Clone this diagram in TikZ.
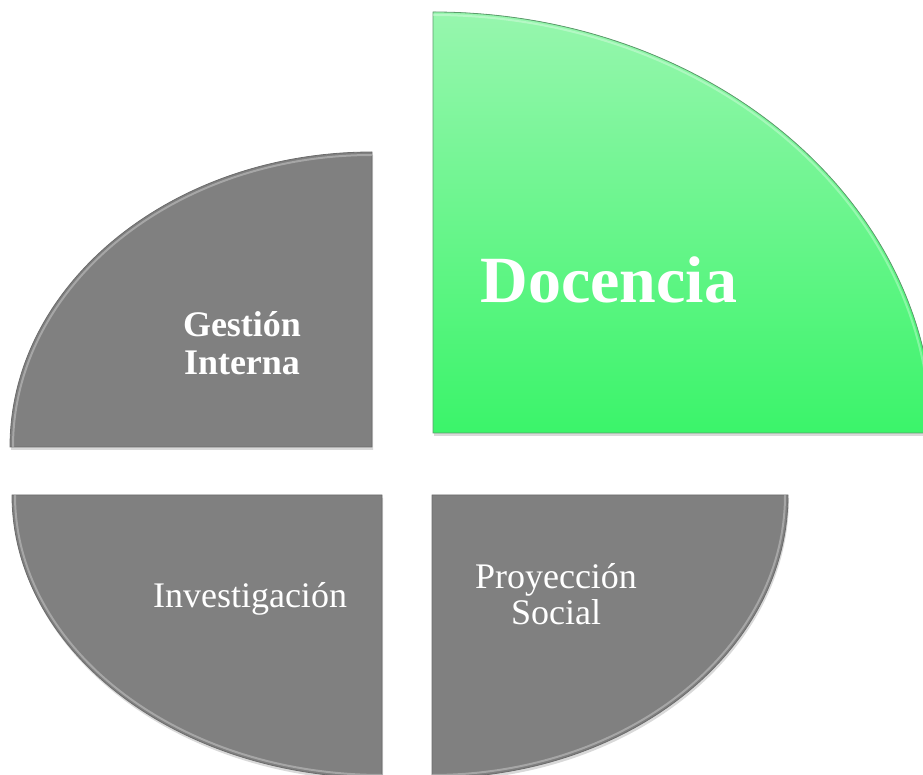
\documentclass[tikz,border=0pt]{standalone}
\usepackage{fontspec}
\setmainfont{Liberation Serif}
\usetikzlibrary{shadows}
\definecolor{quartergray}{HTML}{808080}
\definecolor{edgegray}{HTML}{6C6C6C}
\definecolor{mintlight}{HTML}{97F6AE}
\definecolor{mintdark}{HTML}{3BF46A}
\definecolor{edgegreen}{HTML}{5C9C6C}

\begin{document}
\begin{tikzpicture}[x=1pt,y=1pt,
	quarter/.style={draw=edgegray, line width=0.8pt, fill=quartergray,
		drop shadow={opacity=0.3, shadow xshift=1pt, shadow yshift=-3pt}},
	rim/.style={white, opacity=0.3, line width=2pt},
	areatext/.style={text=white, align=center, inner sep=0pt, font=\fontsize{36}{38}\selectfont}]

	\useasboundingbox (0,0) rectangle (923,774);
	\clip (0,0) rectangle (923,774);

	% quarters: corner -- end of straight side, then the elliptic arc back
	\draw[quarter] (372,327) -- (10,327) arc[start angle=180, end angle=90, x radius=362, y radius=295] -- cycle;
	\draw[rim] (13,327) arc[start angle=180, end angle=90, x radius=359, y radius=292];

	\draw[quarter, draw=edgegreen, top color=mintlight, bottom color=mintdark] (433,341) -- (933,341) arc[start angle=0, end angle=90, x radius=500, y radius=421] -- cycle;
	\draw[rim] (930,341) arc[start angle=0, end angle=90, x radius=497, y radius=418];

	\draw[quarter] (382,279) -- (12,279) arc[start angle=180, end angle=270, x radius=370, y radius=283] -- cycle;
	\draw[rim] (15,279) arc[start angle=180, end angle=270, x radius=367, y radius=280];

	\draw[quarter] (432,279) -- (788,279) arc[start angle=0, end angle=-90, x radius=356, y radius=283] -- cycle;
	\draw[rim] (785,279) arc[start angle=0, end angle=-90, x radius=353, y radius=280];

	% texts
	\node[areatext, font=\bfseries\fontsize{36}{38}\selectfont] (gestion) at (242,431) {Gestión\\Interna};
	\node[areatext, anchor=base, font=\bfseries\fontsize{66}{70}\selectfont] (docencia) at (609,471) {Docencia};
	\node[areatext, anchor=base] (investigacion) at (250,167) {Investigación};
	\node[areatext, font=\fontsize{36}{36}\selectfont] (proyeccion) at (556,180) {Proyección\\Social};

\end{tikzpicture}
\end{document}
